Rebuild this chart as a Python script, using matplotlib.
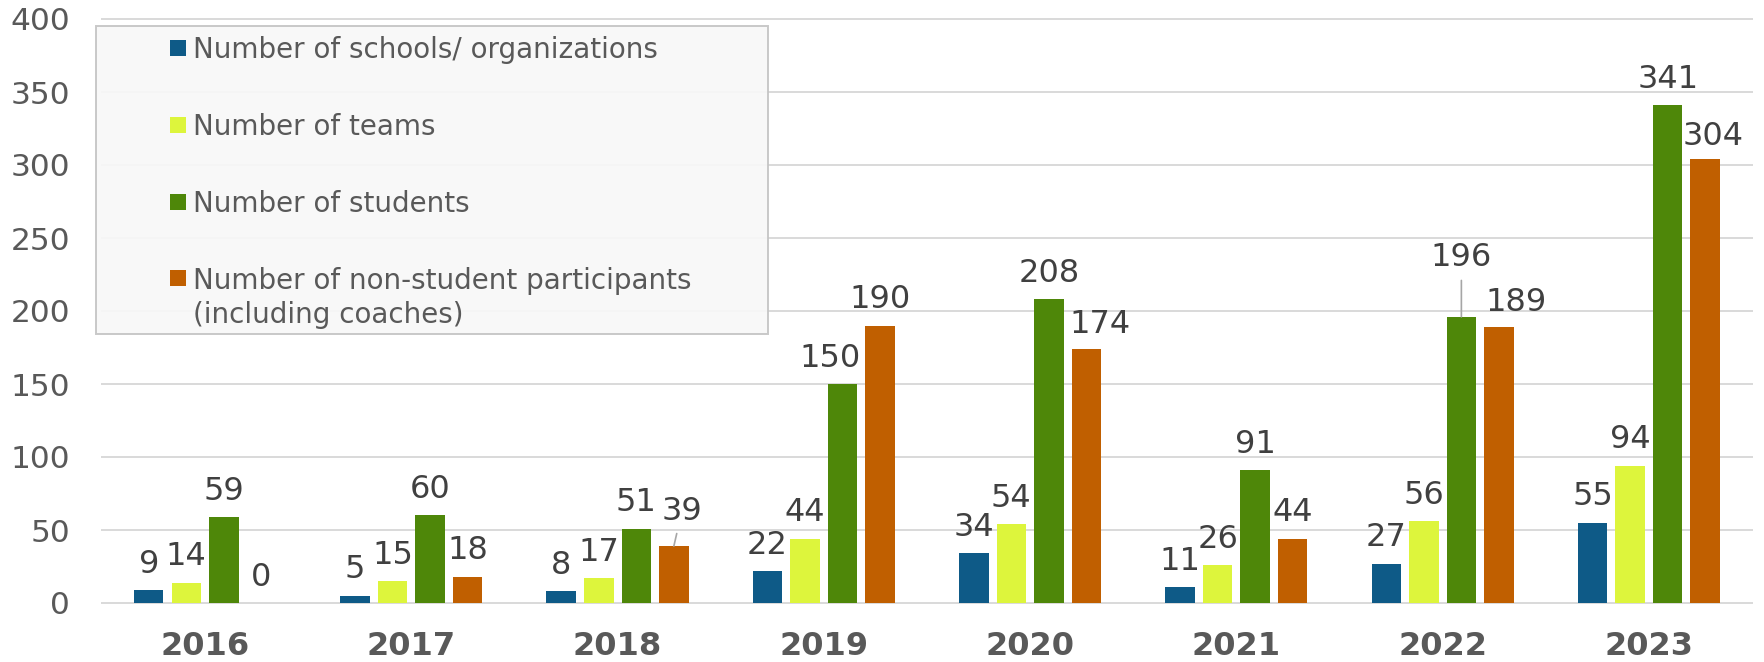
import matplotlib
matplotlib.use("Agg")
import matplotlib.pyplot as plt
import numpy as np
from matplotlib.patches import Rectangle

years = ["2016", "2017", "2018", "2019", "2020", "2021", "2022", "2023"]
series_names = [
    "Number of schools/ organizations",
    "Number of teams",
    "Number of students",
    "Number of non-student participants\n(including coaches)",
]
schools = [9, 5, 8, 22, 34, 11, 27, 55]
teams = [14, 15, 17, 44, 54, 26, 56, 94]
students = [59, 60, 51, 150, 208, 91, 196, 341]
non_students = [0, 18, 39, 190, 174, 44, 189, 304]
yticks = [0, 50, 100, 150, 200, 250, 300, 350, 400]

series = [schools, teams, students, non_students]
colors = ["#0E5A87", "#DDF53C", "#4E8709", "#C05F00"]

W, H = 1764, 662
DPI = 100
PT = DPI / 72.0

fig = plt.figure(figsize=(W / DPI, H / DPI), dpi=DPI)
ax_l, ax_r, ax_t, ax_b = 101.9, 1752.0, 19.0, 603.0
ax = fig.add_axes([ax_l / W, 1 - ax_b / H, (ax_r - ax_l) / W, (ax_b - ax_t) / H])

x = np.arange(len(years))
step = 0.182
width = 0.143
offsets = [-1.5, -0.5, 0.5, 1.5]

label_color = "#404040"
tick_color = "#595959"
fs = 23
half_cap = 0.729 * fs * PT / 2

# manually moved labels: (series, year) -> (dx px, label centre above bar top px, leader line)
special = {
    (3, 2): (8, 38, True),
    (2, 6): (0, 62, True),
    (2, 3): (-13, 29, False),
    (3, 4): (14, 27.6, False),
    (3, 6): (17, 27.3, False),
    (3, 7): (8, 26, False),
}

for si, (vals, col, off) in enumerate(zip(series, colors, offsets)):
    xs = x + off * step
    ax.bar(xs, vals, width=width, color=col, zorder=3)
    for i, (xi, v) in enumerate(zip(xs, vals)):
        dx, dist, leader = special.get((si, i), (0, 29, False))
        kw = {}
        if leader:
            kw["arrowprops"] = dict(arrowstyle="-", color="#a6a6a6", lw=1.2,
                                    shrinkA=3, shrinkB=0)
        ax.annotate(str(v), xy=(xi, v), xytext=(dx / PT, (dist - half_cap) / PT),
                    textcoords="offset points", ha="center", va="baseline",
                    fontsize=fs, color=label_color, zorder=5, **kw)

ax.set_xlim(-0.5, len(years) - 0.5)
ax.set_ylim(0, 400)
ax.set_yticks(yticks)
ax.set_yticklabels([str(t) for t in yticks])
ax.set_xticks(x)
ax.set_xticklabels(years, fontweight="bold")
ax.tick_params(axis="y", length=0, pad=23, labelsize=22.5, labelcolor=tick_color)
ax.tick_params(axis="x", length=0, pad=20, labelsize=23, labelcolor=tick_color)
for s in ax.spines.values():
    s.set_visible(False)
ax.yaxis.grid(True, color="#d9d9d9", lw=1.4, zorder=0)
ax.set_axisbelow(True)
for t in ax.yaxis.get_major_ticks():
    t.gridline.set_clip_on(False)

# legend box (drawn manually)
lx0, lx1, ly0, ly1 = 96, 768, 26, 334
fig.patches.append(Rectangle((lx0 / W, 1 - ly1 / H), (lx1 - lx0) / W, (ly1 - ly0) / H,
                             transform=fig.transFigure, facecolor="#f8f8f8",
                             edgecolor="#c4c4c4", lw=1.4, alpha=0.92, zorder=2))
leg_fs = 20
leg_half_cap = 0.729 * leg_fs * PT / 2
centers = [48, 125, 202, 278]
last_line = [48, 125, 202, 313]
for name, col, cy, by in zip(series_names, colors, centers, last_line):
    fig.patches.append(Rectangle((170 / W, 1 - (cy + 7.8) / H), 15.7 / W, 15.7 / H,
                                 transform=fig.transFigure, facecolor=col,
                                 edgecolor="none", zorder=3))
    fig.text(193 / W, 1 - (by + leg_half_cap) / H, name, ha="left", va="baseline",
             fontsize=leg_fs, color=tick_color, zorder=4, linespacing=1.3)

fig.savefig("out.png", dpi=DPI)
